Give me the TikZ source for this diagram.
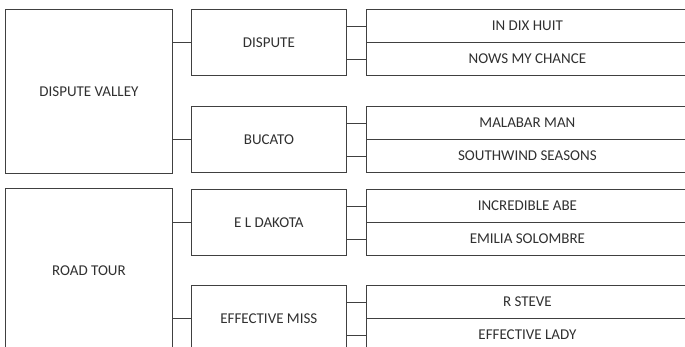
\documentclass[tikz,border=0pt]{standalone}
\usepackage{fontspec}
\setmainfont{Carlito}
\usetikzlibrary{positioning}

\definecolor{boxline}{HTML}{404040}
\definecolor{boxtext}{HTML}{303030}

\tikzset{
  horse/.style={draw=boxline, line width=0.8pt, text=boxtext, anchor=north west,
    font=\fontsize{15pt}{17pt}\selectfont, inner sep=0pt},
  dam/.style={horse, minimum width=167pt, minimum height=164pt},
  sire/.style={horse, minimum width=155pt, minimum height=66pt},
  leaf/.style={horse, minimum width=322pt, minimum height=33pt},
  link/.style={draw=boxline, line width=0.8pt}
}

\begin{document}
\begin{tikzpicture}[x=1pt,y=-1pt]
  \useasboundingbox (0,0) rectangle (685,346);
  \clip (0,0) rectangle (685,346);

  % first family
  \node[dam] (valley) at (5,9) {DISPUTE VALLEY};
  \node[sire] (dispute) at (191,9) {DISPUTE};
  \node[sire] (bucato) at (191,106) {BUCATO};
  \node[leaf] (dixhuit) at (366,9) {IN DIX HUIT};
  \node[leaf] (nows) at (366,42) {NOWS MY CHANCE};
  \node[leaf] (malabar) at (366,106) {MALABAR MAN};
  \node[leaf] (southwind) at (366,139) {SOUTHWIND SEASONS};

  % second family
  \node[dam] (roadtour) at (5,188) {ROAD TOUR};
  \node[sire] (dakota) at (191,189) {E L DAKOTA};
  \node[sire] (effmiss) at (191,285) {EFFECTIVE MISS};
  \node[leaf] (abe) at (366,189) {INCREDIBLE ABE};
  \node[leaf] (emilia) at (366,222) {EMILIA SOLOMBRE};
  \node[leaf] (rsteve) at (366,285) {R STEVE};
  \node[leaf] (efflady) at (366,318) {EFFECTIVE LADY};

  \path[link]
    (dispute.west) -- (dispute.west -| valley.east)
    (bucato.west) -- (bucato.west -| valley.east)
    (dixhuit.west) -- (dixhuit.west -| dispute.east)
    (nows.west) -- (nows.west -| dispute.east)
    (malabar.west) -- (malabar.west -| bucato.east)
    (southwind.west) -- (southwind.west -| bucato.east)
    (dakota.west) -- (dakota.west -| roadtour.east)
    (effmiss.west) -- (effmiss.west -| roadtour.east)
    (abe.west) -- (abe.west -| dakota.east)
    (emilia.west) -- (emilia.west -| dakota.east)
    (rsteve.west) -- (rsteve.west -| effmiss.east)
    (efflady.west) -- (efflady.west -| effmiss.east)
    ;
\end{tikzpicture}
\end{document}
